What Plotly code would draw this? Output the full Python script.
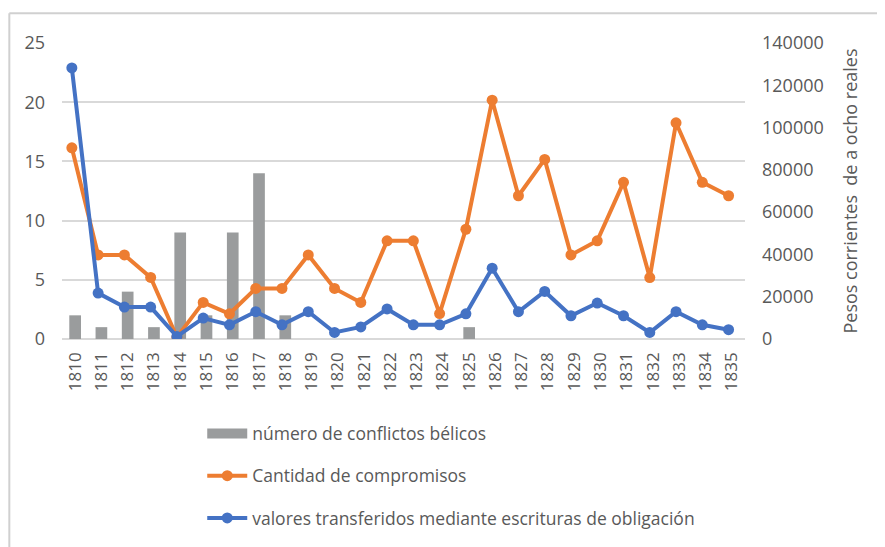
import plotly.graph_objects as go

years = [str(y) for y in range(1810, 1836)]
conflictos = [2, 1, 4, 1, 9, 2, 9, 14, 2, 0, 0, 0, 0, 0, 0, 1, 0, 0, 0, 0, 0, 0, 0, 0, 0, 0]
compromisos = [16.15, 7.1, 7.1, 5.2, 0.15, 3.09, 2.13, 4.27, 4.27, 7.1, 4.27, 3.09, 8.29, 8.29,
               2.15, 9.27, 20.17, 12.1, 15.17, 7.1, 8.29, 13.23, 5.19, 18.26, 13.23, 12.1]
valores = [128200, 21700, 15100, 15100, 1200, 9900, 6700, 12900, 6700, 12900, 3100, 5700, 14200, 6700,
           6700, 11900, 33500, 12900, 22500, 11000, 17000, 11000, 3100, 12900, 6700, 4400]
left_ticks = [0, 5, 10, 15, 20, 25]
right_ticks = [0, 20000, 40000, 60000, 80000, 100000, 120000, 140000]
right_labels = [str(v) for v in right_ticks]

GREY_TXT = "#595959"
BAR_GREY = "#9A9C9D"
FONT = "Open Sans"

# page has an 8px body margin; figure coordinates = page coordinates - 8
W, H = 877, 539
PL, PR, PT, PB = 61.7 - 8, 745 - 8, 42.7 - 8, 339.3 - 8
PW, PH = PR - PL, PB - PT

fig = go.Figure()
fig.add_trace(go.Bar(x=years, y=conflictos, name="número de conflictos bélicos",
                     marker=dict(color=BAR_GREY, line=dict(width=0)),
                     xaxis="x", yaxis="y", showlegend=False))
# legend entry for the bars (wide grey swatch like the original)
fig.add_trace(go.Scatter(x=[None], y=[None], name="número de conflictos bélicos",
                         mode="lines", line=dict(color=BAR_GREY, width=11),
                         xaxis="x", yaxis="y", legendgroup="a"))
fig.add_trace(go.Scatter(x=years, y=compromisos, name="Cantidad de compromisos",
                         mode="lines+markers", line=dict(color="#ED7D31", width=4),
                         marker=dict(size=11, color="#ED7D31"),
                         xaxis="x2", yaxis="y", legendgroup="b"))
fig.add_trace(go.Scatter(x=years, y=valores, name="valores transferidos mediante escrituras de obligación",
                         mode="lines+markers", line=dict(color="#4472C4", width=4),
                         marker=dict(size=11, color="#4472C4"),
                         xaxis="x2", yaxis="y2", legendgroup="c"))

def px(xp):
    return (xp - 8 - PL) / PW

def py(yp):
    return (PB - (yp - 8)) / PH

fig.update_layout(
    width=W, height=H,
    margin=dict(l=PL, r=W - PR, t=PT, b=H - PB, autoexpand=False),
    paper_bgcolor="white", plot_bgcolor="white",
    font=dict(family=FONT, color=GREY_TXT, size=16),
    bargap=0.555,
    showlegend=True,
    legend=dict(x=px(202), y=py(416), xanchor="left", yanchor="top",
                orientation="v", tracegroupgap=16.5, itemwidth=40,
                font=dict(size=17.5, color=GREY_TXT), bgcolor="rgba(0,0,0,0)"),
    xaxis=dict(type="category", range=[-0.5, 25.5], tickangle=-90, showgrid=False,
               showline=False, ticks="", tickfont=dict(size=17, color=GREY_TXT),
               ticklabelstandoff=9),
    xaxis2=dict(type="category", overlaying="x", range=[-0.375, 25.625], visible=False),
    yaxis=dict(range=[0, 25], tickvals=left_ticks, showgrid=True, gridcolor="#D9D9D9",
               gridwidth=1.5, zeroline=True, zerolinecolor="#D9D9D9", zerolinewidth=1.5,
               showline=False, ticks="", tickfont=dict(size=18, color=GREY_TXT),
               ticklabelstandoff=16),
    yaxis2=dict(range=[0, 140000], tickvals=right_ticks, ticktext=right_labels,
                overlaying="y", side="right",
                anchor="x", showgrid=False, zeroline=False, showline=False, ticks="",
                tickfont=dict(size=18, color=GREY_TXT), ticklabelstandoff=16,
                title=dict(text="Pesos corrientes  de a ocho reales", standoff=21,
                           font=dict(size=18, color=GREY_TXT))),
    shapes=[
        dict(type="line", xref="paper", yref="paper", x0=px(9), x1=px(9),
             y0=py(13), y1=py(560), line=dict(color="#D0D0D0", width=2)),
        dict(type="line", xref="paper", yref="paper", x0=px(9), x1=px(900),
             y0=py(13), y1=py(13), line=dict(color="#D0D0D0", width=2)),
    ],
)

fig.write_html("out.html")
